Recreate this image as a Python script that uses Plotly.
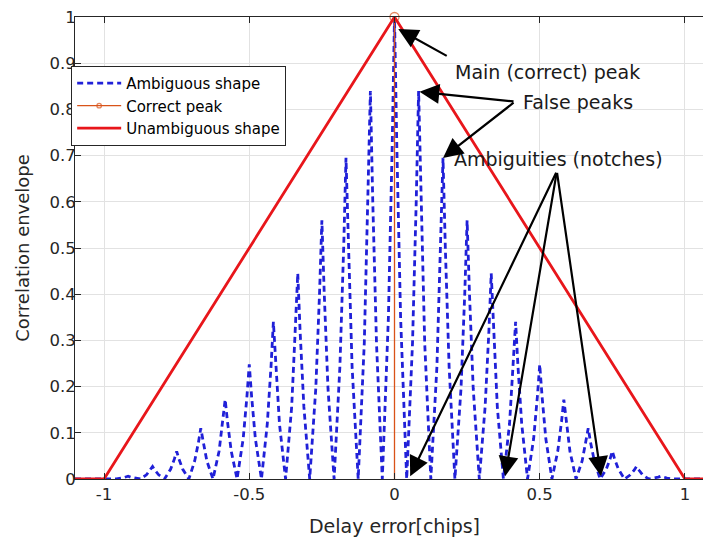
import plotly.graph_objects as go

# Ambiguous (BOC-like) correlation envelope
amb_delay = [
    -1.100, -0.958,
    -0.938, -0.925, -0.917, -0.908, -0.896, -0.875,
    -0.854, -0.842, -0.833, -0.825, -0.812, -0.792,
    -0.771, -0.758, -0.750, -0.742, -0.729, -0.708,
    -0.688, -0.675, -0.667, -0.658, -0.646, -0.625,
    -0.604, -0.592, -0.583, -0.575, -0.562, -0.542,
    -0.521, -0.508, -0.500, -0.492, -0.479, -0.458,
    -0.438, -0.425, -0.417, -0.408, -0.396, -0.375,
    -0.354, -0.342, -0.333, -0.325, -0.312, -0.292,
    -0.271, -0.258, -0.250, -0.242, -0.229, -0.208,
    -0.188, -0.175, -0.167, -0.158, -0.146, -0.125,
    -0.104, -0.092, -0.083, -0.075, -0.062, -0.042,
    -0.021, -0.008, 0.000, 0.008, 0.021, 0.042,
    0.062, 0.075, 0.083, 0.092, 0.104, 0.125,
    0.146, 0.158, 0.167, 0.175, 0.188, 0.208,
    0.229, 0.242, 0.250, 0.258, 0.271, 0.292,
    0.312, 0.325, 0.333, 0.342, 0.354, 0.375,
    0.396, 0.408, 0.417, 0.425, 0.438, 0.458,
    0.479, 0.492, 0.500, 0.508, 0.521, 0.542,
    0.562, 0.575, 0.583, 0.592, 0.604, 0.625,
    0.646, 0.658, 0.667, 0.675, 0.688, 0.708,
    0.729, 0.742, 0.750, 0.758, 0.771, 0.792,
    0.812, 0.825, 0.833, 0.842, 0.854, 0.875,
    0.896, 0.908, 0.917, 0.925, 0.938, 0.958,
    1.100,
]
amb_corr = [
    0.000, 0.000,
    0.002, 0.004, 0.006, 0.004, 0.002, 0.000,
    0.009, 0.019, 0.027, 0.019, 0.009, 0.000,
    0.021, 0.043, 0.060, 0.043, 0.021, 0.000,
    0.039, 0.079, 0.110, 0.079, 0.039, 0.000,
    0.060, 0.124, 0.172, 0.124, 0.060, 0.000,
    0.087, 0.179, 0.248, 0.179, 0.087, 0.000,
    0.119, 0.245, 0.340, 0.245, 0.119, 0.000,
    0.156, 0.320, 0.445, 0.320, 0.156, 0.000,
    0.196, 0.403, 0.560, 0.403, 0.196, 0.000,
    0.243, 0.500, 0.695, 0.500, 0.243, 0.000,
    0.294, 0.605, 0.840, 0.605, 0.294, 0.000,
    0.350, 0.720, 1.000, 0.720, 0.350, 0.000,
    0.294, 0.605, 0.840, 0.605, 0.294, 0.000,
    0.243, 0.500, 0.695, 0.500, 0.243, 0.000,
    0.196, 0.403, 0.560, 0.403, 0.196, 0.000,
    0.156, 0.320, 0.445, 0.320, 0.156, 0.000,
    0.119, 0.245, 0.340, 0.245, 0.119, 0.000,
    0.087, 0.179, 0.248, 0.179, 0.087, 0.000,
    0.060, 0.124, 0.172, 0.124, 0.060, 0.000,
    0.039, 0.079, 0.110, 0.079, 0.039, 0.000,
    0.021, 0.043, 0.060, 0.043, 0.021, 0.000,
    0.009, 0.019, 0.027, 0.019, 0.009, 0.000,
    0.002, 0.004, 0.006, 0.004, 0.002, 0.000,
    0.000,
]

# Correct peak (stem)
cp_delay = [0.0, 0.0]
cp_corr = [0.0, 1.0]

# Unambiguous (BPSK-like) triangle
ua_delay = [-1.1, -1.0, 0.0, 1.0, 1.1]
ua_corr = [0.0, 0.0, 1.0, 0.0, 0.0]

x_ticks = [-1, -0.5, 0, 0.5, 1]
x_tick_text = ["-1", "-0.5", "0", "0.5", "1"]
y_ticks = [0, 0.1, 0.2, 0.3, 0.4, 0.5, 0.6, 0.7, 0.8, 0.9, 1]
y_tick_text = ["0", "0.1", "0.2", "0.3", "0.4", "0.5", "0.6", "0.7", "0.8", "0.9", "1"]

FONT = "DejaVu Sans"
AX = "#262626"

fig = go.Figure()
fig.add_trace(go.Scatter(
    x=amb_delay, y=amb_corr, mode="lines", name="Ambiguous shape",
    line=dict(color="#2020d8", width=2.8, dash="6px,4px"),
))
fig.add_trace(go.Scatter(
    x=cp_delay, y=cp_corr, mode="lines+markers", name="Correct peak",
    line=dict(color="#D95319", width=1.3),
    marker=dict(symbol="circle-open", size=[0, 9], color="#D95319", line=dict(width=1.3)),
    cliponaxis=False,
))
fig.add_trace(go.Scatter(
    x=ua_delay, y=ua_corr, mode="lines", name="Unambiguous shape",
    line=dict(color="#e8161b", width=2.8),
))

annotations = []
# text labels
labels = [
    ("Main (correct) peak", 0.202, 0.881),
    ("False peaks", 0.436, 0.817),
    ("Ambiguities (notches)", 0.199, 0.692),
]
for txt, lx, ly in labels:
    annotations.append(dict(
        text=txt, x=lx, y=ly, xref="x", yref="y", xanchor="left", yanchor="middle",
        showarrow=False, font=dict(family=FONT, size=19, color="#1a1a1a"),
    ))
# arrows: (tail_x, tail_y, tip_x, tip_y)
arrows = [
    (0.185, 0.914, 0.013, 0.974),
    (0.415, 0.817, 0.086, 0.838),
    (0.415, 0.817, 0.167, 0.695),
    (0.559, 0.666, 0.054, 0.006),
    (0.559, 0.666, 0.381, 0.006),
    (0.559, 0.666, 0.711, 0.006),
]
for tx, ty, hx, hy in arrows:
    annotations.append(dict(
        text="", x=hx, y=hy, ax=tx, ay=ty, xref="x", yref="y", axref="x", ayref="y",
        showarrow=True, arrowhead=2, arrowsize=1.8, arrowwidth=2.2, arrowcolor="black",
        standoff=0, startstandoff=0,
    ))

# the page body adds an 8px offset; margins compensate for it
fig.update_layout(
    width=711, height=539,
    margin=dict(l=67, r=5, t=9, b=68, autoexpand=False),
    paper_bgcolor="white", plot_bgcolor="white",
    font=dict(family=FONT, color=AX),
    showlegend=True,
    legend=dict(
        x=-0.006, y=0.894, xanchor="left", yanchor="top",
        bgcolor="white", bordercolor="#262626", borderwidth=1,
        font=dict(family=FONT, size=15, color="black"),
        itemwidth=44, tracegroupgap=0,
    ),
    annotations=annotations,
    xaxis=dict(
        range=[-1.1, 1.1], tickvals=x_ticks, ticktext=x_tick_text,
        showgrid=True, gridcolor="#e2e2e2", gridwidth=1, zeroline=False,
        showline=True, linecolor=AX, linewidth=1, mirror="ticks",
        ticks="inside", ticklen=6, tickcolor=AX, automargin=False,
        ticklabeloverflow="allow",
        tickfont=dict(family=FONT, size=16.5, color=AX),
        title=dict(text="Delay error[chips]", font=dict(family=FONT, size=19, color=AX), standoff=16),
    ),
    yaxis=dict(
        range=[0, 1], tickvals=y_ticks, ticktext=y_tick_text,
        showgrid=True, gridcolor="#e2e2e2", gridwidth=1, zeroline=False,
        showline=True, linecolor=AX, linewidth=1, mirror="ticks",
        ticks="inside", ticklen=6, tickcolor=AX, automargin=False,
        ticklabeloverflow="allow", ticklabelstandoff=-5,
        tickfont=dict(family=FONT, size=16.5, color=AX),
        title=dict(text="Correlation envelope", font=dict(family=FONT, size=18, color=AX), standoff=15),
    ),
)

fig.write_html("out.html")
